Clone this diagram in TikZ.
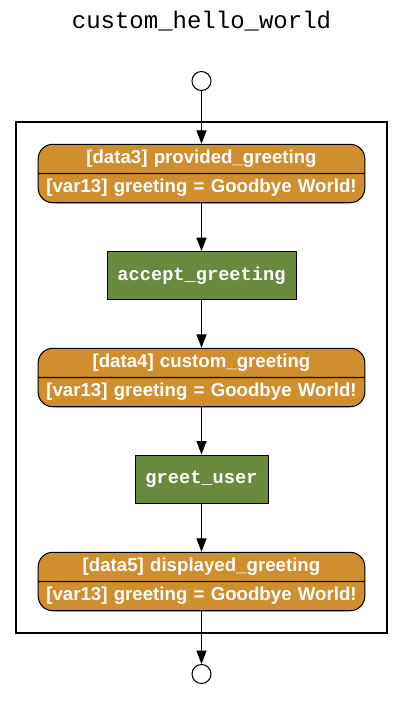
\documentclass[tikz,border=0pt]{standalone}
\usepackage{fontspec}
\usetikzlibrary{shapes.multipart,arrows.meta}
\newfontfamily\flowsans{Liberation Sans}
\newfontfamily\flowmono{Liberation Mono}
\definecolor{dataorange}{RGB}{209,142,46}
\definecolor{taskgreen}{RGB}{105,138,62}
\tikzset{
  x=0.75pt, y=-0.75pt,
  flowarrow/.style={draw, line width=0.8pt, -{Triangle[length=10pt,width=7.5pt]}},
  endpoint/.style={circle, draw, line width=0.8pt, fill=white, minimum size=14.25pt, inner sep=0pt},
  databox/.style={rectangle split, rectangle split parts=2, draw=black, line width=0.8pt,
    fill=dataorange, rounded corners=11pt, text=white, text width=235pt, align=center,
    inner xsep=5pt, inner ysep=4pt, font=\flowsans\bfseries\fontsize{14}{16}\selectfont},
  taskbox/.style={rectangle, draw=black, line width=0.75pt, fill=taskgreen, text=white,
    minimum height=36pt, inner sep=0pt, font=\flowmono\bfseries\fontsize{14}{16}\selectfont},
  clusterbox/.style={rectangle, draw=black, line width=1.5pt, inner sep=0pt}
}
\begin{document}
\begin{tikzpicture}

  \useasboundingbox (0,0) rectangle (403,721);

  % Title
  \node[anchor=base, font=\flowmono\fontsize{18}{20}\selectfont] (title) at (201.5,28) {custom\_hello\_world};

  % Cluster frame
  \node[clusterbox, minimum width=278.25pt, minimum height=383.25pt] (cluster) at (201.5,377.5) {};

  % Start and end points
  \node[endpoint] (start) at (201.5,81) {};
  \node[endpoint] (stop) at (201.5,674) {};

  % Data nodes
  \node[databox] (data3) at (201.5,173.5) {[data3] provided\_greeting
    \nodepart{two} [var13] greeting = Goodbye World!};
  \node[databox] (data4) at (201.5,377.5) {[data4] custom\_greeting
    \nodepart{two} [var13] greeting = Goodbye World!};
  \node[databox] (data5) at (201.5,581.5) {[data5] displayed\_greeting
    \nodepart{two} [var13] greeting = Goodbye World!};

  % Tasks
  \node[taskbox, minimum width=141.75pt] (accept) at (201.5,275.5) {accept\_greeting};
  \node[taskbox, minimum width=99.75pt] (greet) at (201.5,479) {greet\_user};

  % Flow
  \draw[flowarrow] (start) -- (data3);
  \draw[flowarrow] (data3) -- (accept);
  \draw[flowarrow] (accept) -- (data4);
  \draw[flowarrow] (data4) -- (greet);
  \draw[flowarrow] (greet) -- (data5);
  \draw[flowarrow] (data5) -- (stop);

\end{tikzpicture}
\end{document}
